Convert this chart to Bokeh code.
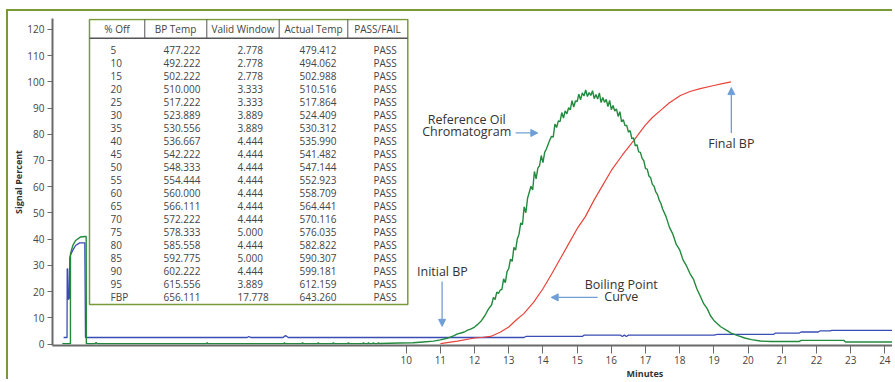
from bokeh.plotting import figure
from bokeh.models import Range1d, FixedTicker, Label, Arrow, NormalHead, Title
from bokeh.core.properties import value
from bokeh.embed import file_html
from bokeh.resources import INLINE

# ---------------- data ----------------
green_min = [-0.06, 0.18, 0.18, 0.25, 0.33, 0.47, 0.60, 0.64, 0.645, 0.90, 0.93, 0.96,
             4.16, 4.18, 4.20, 6.42, 6.44, 6.46, 6.95, 6.97, 6.99, 7.41, 7.43, 7.45,
             7.85, 7.87, 7.89, 8.29, 8.31, 8.33, 8.73, 8.75, 8.77, 8.88, 8.90, 8.92,
             9.02, 9.04, 9.06, 9.17, 9.19, 9.21, 9.25, 9.8, 10.2, 10.5, 10.8, 11.0,
             11.2, 11.4, 11.5, 11.6, 11.7, 11.8, 11.9, 12.0, 12.1, 12.2, 12.3, 12.4,
             12.50, 12.55, 12.60, 12.65, 12.70, 12.75, 12.80, 12.85, 12.90, 12.95,
             13.00, 13.05, 13.10, 13.15, 13.20, 13.25, 13.30, 13.35, 13.40, 13.45,
             13.50, 13.55, 13.60, 13.65, 13.70, 13.75, 13.80, 13.85, 13.90, 13.95,
             14.00, 14.05, 14.10, 14.15, 14.20, 14.25, 14.30, 14.35, 14.40, 14.45,
             14.50, 14.55, 14.60, 14.65, 14.70, 14.75, 14.80, 14.85, 14.90, 14.95,
             15.00, 15.05, 15.10, 15.15, 15.20, 15.25, 15.30, 15.35, 15.40, 15.45,
             15.50, 15.55, 15.60, 15.65, 15.70, 15.75, 15.80, 15.85, 15.90, 15.95,
             16.00, 16.05, 16.10, 16.15, 16.20, 16.25, 16.30, 16.35, 16.40, 16.45,
             16.50, 16.55, 16.60, 16.65, 16.70, 16.75, 16.80, 16.85, 16.90, 16.95,
             17.00, 17.05, 17.10, 17.15, 17.20, 17.25, 17.30, 17.35, 17.40, 17.45,
             17.50, 17.6, 17.7, 17.8, 17.9, 18.0, 18.1, 18.2, 18.3, 18.4, 18.5, 18.6,
             18.7, 18.8, 18.9, 19.0, 19.2, 19.4, 19.5, 19.7, 19.9, 20.1, 20.36, 20.66,
             21.50, 21.55, 22.80, 22.85, 24.3]
green_pct = [0.15, 0.15, 34.5, 37.6, 39.5, 40.8, 41.0, 41.0, 0.15, 0.15, 0.6, 0.15,
             0.15, 0.6, 0.15, 0.15, 0.6, 0.15, 0.15, 0.6, 0.15, 0.15, 0.6, 0.15,
             0.15, 0.6, 0.15, 0.15, 0.6, 0.15, 0.15, 0.6, 0.15, 0.15, 0.6, 0.15,
             0.15, 0.6, 0.15, 0.15, 0.6, 0.15, 0.2, 0.4, 0.5, 0.8, 1.1, 1.6,
             2.2, 3.2, 3.9, 4.2, 4.6, 5.3, 5.8, 6.5, 7.6, 8.9, 10.8, 13.2,
             15.0, 17.8, 17.0, 19.8, 19.3, 20.6, 20.9, 24.9, 23.4, 27.6,
             28.8, 32.4, 31.5, 36.9, 35.8, 40.1, 41.9, 46.2, 45.5, 52.3,
             50.1, 55.6, 57.9, 60.2, 58.8, 65.8, 63.0, 67.1, 68.0, 71.9,
             69.2, 73.1, 74.4, 76.1, 77.8, 79.2, 78.9, 83.9, 82.6, 85.1,
             84.8, 88.3, 86.2, 88.9, 87.8, 90.1, 89.3, 92.8, 90.4, 92.7,
             92.5, 95.3, 93.1, 95.8, 94.6, 96.9, 94.4, 95.9, 94.8, 96.6,
             93.6, 95.2, 93.4, 95.8, 92.1, 94.0, 92.2, 93.3, 90.6, 92.9,
             89.4, 91.0, 88.9, 89.7, 86.8, 88.6, 84.7, 85.6, 83.3, 83.4,
             80.8, 81.4, 78.3, 78.6, 75.6, 76.0, 73.3, 73.1, 70.8, 69.9,
             66.9, 66.7, 64.1, 63.4, 60.9, 60.2, 58.0, 57.0, 54.9, 53.6,
             51.5, 48.6, 44.5, 41.9, 38.0, 35.9, 32.0, 29.8, 26.9, 24.8, 21.1, 18.3,
             15.4, 13.6, 10.8, 9.0, 6.6, 5.0, 4.2, 3.2, 2.3, 1.7, 1.15, 1.0,
             1.0, 1.4, 1.4, 0.8, 0.8]

blue_min = [-0.02, 0.08, 0.085, 0.10, 0.12, 0.15, 0.16, 0.20, 0.25, 0.33, 0.45, 0.60,
            0.62, 5.35, 5.40, 5.45, 6.40, 6.47, 6.55, 13.45, 13.50, 15.15, 15.20,
            16.27, 16.32, 16.38, 16.44, 16.50, 19.0, 19.1, 20.75, 20.80, 21.50,
            21.55, 22.05, 22.10, 22.40, 22.45, 24.3]
blue_pct = [2.5, 2.5, 28.7, 28.7, 17.0, 17.5, 33.0, 34.5, 35.8, 37.6, 38.6, 38.6,
            2.5, 2.5, 2.9, 2.5, 2.5, 3.3, 2.5, 2.5, 2.9, 2.9, 3.4,
            3.4, 2.9, 3.4, 2.9, 3.4, 3.4, 3.7, 3.7, 4.2, 4.2,
            4.6, 4.6, 5.0, 5.0, 5.2, 5.2]

red_min = [11.0, 11.5, 12.0, 12.25, 12.47, 12.76, 13.0, 13.2, 13.44, 13.73, 14.0, 14.25,
           14.51, 14.75, 15.0, 15.24, 15.49, 15.75, 16.0, 16.33, 16.66, 16.85, 17.0,
           17.2, 17.44, 17.7, 18.02, 18.3, 18.6, 19.0, 19.25, 19.5]
red_pct = [0.15, 1.1, 2.3, 2.6, 2.9, 4.6, 6.5, 9.0, 11.6, 16.0, 21.1, 26.6,
           32.6, 38.2, 44.0, 48.6, 54.8, 60.6, 66.2, 72.2, 77.7, 81.0, 83.6,
           86.4, 89.1, 92.0, 94.8, 96.3, 97.4, 98.6, 99.3, 100.0]

y_ticks = [0, 10, 20, 30, 40, 50, 60, 70, 80, 90, 100, 110, 120]
x_ticks = [10, 11, 12, 13, 14, 15, 16, 17, 18, 19, 20, 21, 22, 23, 24]

tbl_headers = ["% Off", "BP Temp", "Valid Window", "Actual Temp", "PASS/FAIL"]
pct_off = ["5", "10", "15", "20", "25", "30", "35", "40", "45", "50", "55", "60",
           "65", "70", "75", "80", "85", "90", "95", "FBP"]
bp_temp = ["477.222", "492.222", "502.222", "510.000", "517.222", "523.889", "530.556",
           "536.667", "542.222", "548.333", "554.444", "560.000", "566.111", "572.222",
           "578.333", "585.558", "592.775", "602.222", "615.556", "656.111"]
valid_window = ["2.778", "2.778", "2.778", "3.333", "3.333", "3.889", "3.889", "4.444",
                "4.444", "4.444", "4.444", "4.444", "4.444", "4.444", "5.000", "4.444",
                "5.000", "4.444", "3.889", "17.778"]
actual_temp = ["479.412", "494.062", "502.988", "510.516", "517.864", "524.409", "530.312",
               "535.990", "541.482", "547.144", "552.923", "558.709", "564.441", "570.116",
               "576.035", "582.822", "590.307", "599.181", "612.159", "643.260"]
pass_fail = ["PASS"] * 20

# ---------------- style / layout constants ----------------
GREEN = "#238a3d"
BLUE = "#3a4db5"
RED = "#e8443a"
ARROW = "#6f9fd6"
OLIVE = "#7a9a3a"
TXT = "#444444"
FONT = "Open Sans"

# table geometry in data units
T_LEFT, T_RIGHT, T_TOP, T_BOTTOM = 0.737, 10.047, 123.8, 15.1
T_HDR_LINE = 116.6
T_HDR_Y = 120.2
T_SEPS = [2.354, 4.168, 6.285, 8.292]
T_HDR_X = [1.541, 3.252, 5.227, 7.289, 9.161]
T_COL_X = [1.352, 2.90, 5.066, 6.879, 9.044]
T_ROW0, T_ROW_STEP = 112.2, 4.957

p = figure(width=886, height=370,
           x_range=Range1d(-0.345, 24.282), y_range=Range1d(-0.55, 124.15),
           output_backend="svg", toolbar_location=None,
           min_border_left=44, min_border_right=0, min_border_top=7, min_border_bottom=36)
p.styles = {"border-top": "2px solid " + OLIVE, "border-left": "2px solid " + OLIVE,
            "margin-left": "6px", "margin-top": "9px"}
p.outline_line_color = None
p.xgrid.visible = False
p.ygrid.visible = False
p.background_fill_color = "white"
p.border_fill_color = "white"

# axes
for ax in (p.xaxis, p.yaxis):
    ax.axis_line_color = "#6a6a6a"
    ax.axis_line_width = 2
    ax.major_tick_line_color = "#6a6a6a"
    ax.major_tick_line_width = 1
    ax.minor_tick_line_color = None
    ax.major_tick_in = 0
    ax.major_label_text_font = FONT
    ax.major_label_text_font_size = "10px"
    ax.major_label_text_color = TXT
p.yaxis.ticker = FixedTicker(ticks=y_ticks)
p.xaxis.ticker = FixedTicker(ticks=x_ticks)
p.yaxis.major_tick_out = 5
p.xaxis.major_tick_out = 8
p.yaxis.major_label_standoff = 3
p.xaxis.major_label_standoff = 2

# axis titles as side-panel titles
p.add_layout(Title(text="Minutes", align="left", offset=574, standoff=-3,
                   text_font=FONT, text_font_size="9px", text_font_style="bold",
                   text_color="#333333"), "below")
p.add_layout(Title(text="Signal Percent", align="center", standoff=0,
                   text_font=FONT, text_font_size="9px", text_font_style="bold",
                   text_color="#333333"), "left")

# curves
p.line(blue_min, blue_pct, line_color=BLUE, line_width=1.3)
p.line(red_min, red_pct, line_color=RED, line_width=1.2)
p.line(green_min, green_pct, line_color=GREEN, line_width=1.4)

# table
p.quad(left=[T_LEFT], right=[T_RIGHT], top=[T_TOP], bottom=[T_BOTTOM],
       fill_color="white", line_color=OLIVE, line_width=1.5)
p.segment(x0=T_SEPS, x1=T_SEPS, y0=[T_TOP] * 4, y1=[T_HDR_LINE] * 4,
          line_color="#555555", line_width=1)
p.segment(x0=[T_LEFT], x1=[T_RIGHT], y0=[T_HDR_LINE], y1=[T_HDR_LINE],
          line_color="#555555", line_width=1.5)
p.text(x=T_HDR_X, y=[T_HDR_Y] * 5, text=tbl_headers, text_font=value(FONT),
       text_font_size="10px", text_color=TXT, text_align="center", text_baseline="middle")
row_y = [T_ROW0 - i * T_ROW_STEP for i in range(len(pct_off))]
for cx, col in zip(T_COL_X, [pct_off, bp_temp, valid_window, actual_temp, pass_fail]):
    p.text(x=[cx] * len(col), y=row_y, text=col, text_font=value(FONT),
           text_font_size="10px", text_color=TXT, text_align="left", text_baseline="middle")

# annotations
ann_text = ["Reference Oil", "Chromatogram", "Initial BP", "Boiling Point", "Curve", "Final BP"]
ann_x = [11.77, 11.77, 11.06, 16.29, 16.29, 19.51]
ann_y = [85.7, 81.1, 27.7, 22.9, 18.2, 76.6]
for t, ax_, ay_ in zip(ann_text, ann_x, ann_y):
    p.add_layout(Label(x=ax_, y=ay_, text=t, text_font=FONT, text_font_size="12.5px",
                       text_color="#333333", text_align="center", text_baseline="middle"))

arrows = [(13.20, 80.5, 13.85, 80.5), (11.05, 23.9, 11.05, 6.75),
          (15.60, 17.8, 14.24, 17.8), (19.51, 80.5, 19.51, 97.8)]
for xs, ys, xe, ye in arrows:
    p.add_layout(Arrow(end=NormalHead(size=7, fill_color=ARROW, line_color=ARROW),
                       x_start=xs, y_start=ys, x_end=xe, y_end=ye,
                       line_color=ARROW, line_width=1.3))

open("out.html", "w").write(file_html(p, INLINE))
